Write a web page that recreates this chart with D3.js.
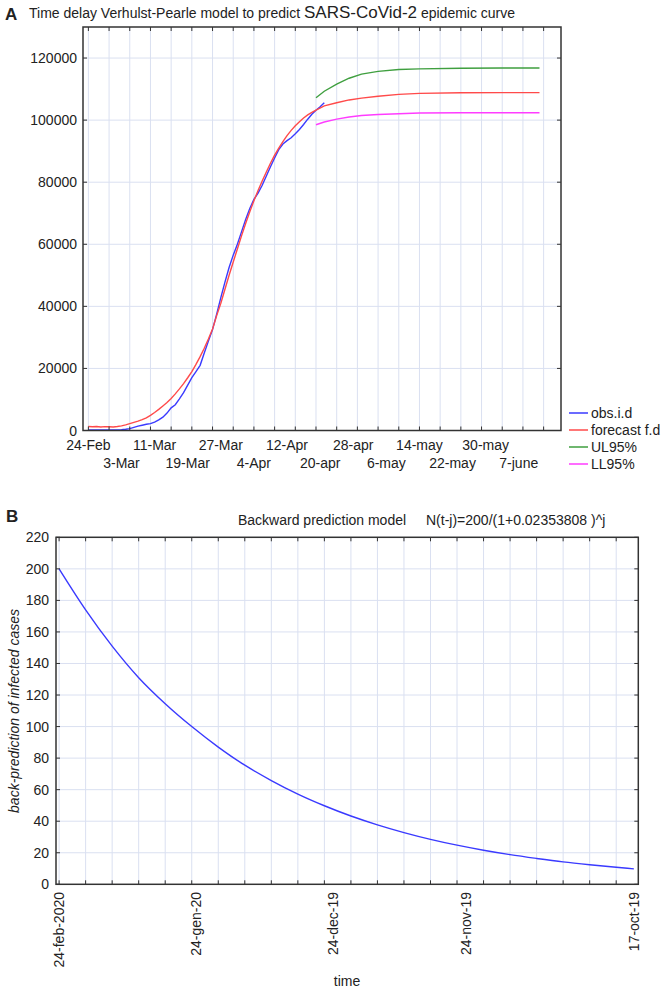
<!DOCTYPE html>
<html><head><meta charset="utf-8">
<script src="https://cdn.jsdelivr.net/npm/d3@7"></script>
<style>
body{margin:0;background:#fff}
text{font-family:"Liberation Sans",Arial,sans-serif;fill:#222}
</style>
</head><body>
<svg id="c" width="668" height="991"></svg>
<script>
// ---------- Panel A data (day index from 24-Feb-2020) ----------
const obsDays = [0,2,4,6,8,9,10,11,12,13,14,15,16,17,18,19,20,21,22,23,24,25,26,27,28,29,30,31,32,33,34,35,36,37,38,39,40,41,42,43,44,45,46,47,48,49,50,51,52,53,54,55,56,57];
const obsVals = [150,150,150,200,250,400,600,1000,1400,1700,2000,2200,2700,3400,4300,5600,7300,8300,10200,12200,14600,17000,19000,21000,25000,28800,32500,37500,42800,47800,52500,56500,60000,64000,68000,71500,74500,76500,79000,82000,85000,87800,90500,92300,93400,94300,95600,97000,98600,100300,101900,103200,104300,105600];

const fcDays = [0,1,2,3,4,5,6,7,8,9,10,11,12,13,14,15,16,17,18,19,20,21,22,23,24,25,26,27,28,29,30,31,32,33,34,35,36,37,38,39,40,41,42,43,44,45,46,47,48,49,50,51,52,53,54,55,57,60,63,66,70,75,80,90,100,109];
const fcVals = [1300,1200,1300,1150,1250,1200,1150,1300,1500,1800,2200,2600,3000,3500,4100,4900,5800,6800,7900,9000,10300,11800,13400,15100,17000,19000,21300,23800,26500,29500,32700,37000,41000,45500,50000,54300,58500,62700,66700,70500,74000,77300,80400,83300,86100,88700,91000,93100,95000,96700,98200,99500,100700,101700,102500,103200,104600,105600,106500,107100,107700,108300,108600,108800,108850,108850];

const ulDays = [55,57,60,63,66,70,75,80,90,100,109];
const ulVals = [107200,109300,111600,113500,114800,115700,116300,116500,116700,116800,116800];
const llDays = [55,57,60,63,66,70,75,80,90,100,109];
const llVals = [98500,99400,100300,101000,101500,101800,102050,102300,102350,102350,102350];

const dateLabels = ["24-Feb","3-Mar","11-Mar","19-Mar","27-Mar","4-Apr","12-Apr","20-apr","28-apr","6-may","14-may","22-may","30-may","7-june"];
const dateLabelDays = [0,8,16,24,32,40,48,56,64,72,80,88,96,104];
const yTicksA = [0,20000,40000,60000,80000,100000,120000];
const legendNames = ["obs.i.d","forecast f.d","UL95%","LL95%"];
const legendColors = ["#3a3aff","#ff4a4a","#3f9f3f","#ff3cff"];

// ---------- Panel B data (days back from 24-feb-2020) ----------
const backDays = [0,6,12,18,24,30,36,42,48,54,60,66,72,78,84,90,96,102,108,114,120,126,130];
const backVals = [200,174,151,131,114.5,100,87,75.5,65.8,57.2,49.8,43.3,37.7,32.8,28.5,24.8,21.6,18.8,16.4,14.2,12.4,10.8,9.8];
const backLabels = ["24-feb-2020","24-gen-20","24-dec-19","24-nov-19","17-oct-19"];
const backLabelDays = [0,31,62,92,130];
const yTicksB = [0,20,40,60,80,100,120,140,160,180,200,220];

const svg = d3.select("#c");
const gridCol = "#dae0f1";
const frameCol = "#333";

// ================= Panel A =================
const xA = d3.scaleLinear().domain([-1.3,114.2]).range([83,561]);
const yA = d3.scaleLinear().domain([0,130000]).range([430.5,27]);
const gA = svg.append("g");
const gridDaysA = d3.range(0,111,5);

gA.selectAll(".vg").data(gridDaysA).join("line")
  .attr("x1",d=>xA(d)).attr("x2",d=>xA(d)).attr("y1",yA.range()[1]).attr("y2",yA.range()[0])
  .attr("stroke",gridCol).attr("stroke-width",1);
gA.selectAll(".hg").data(yTicksA.slice(1)).join("line")
  .attr("x1",xA.range()[0]).attr("x2",xA.range()[1]).attr("y1",d=>yA(d)).attr("y2",d=>yA(d))
  .attr("stroke",gridCol).attr("stroke-width",1);

function frameTicks(g,x,y,xt,yt){
  const [x0,x1]=x.range(), [y0,y1]=y.range();
  g.selectAll(null).data(xt).join("line").attr("x1",d=>x(d)).attr("x2",d=>x(d)).attr("y1",y1).attr("y2",y1+4).attr("stroke",frameCol);
  g.selectAll(null).data(xt).join("line").attr("x1",d=>x(d)).attr("x2",d=>x(d)).attr("y1",y0).attr("y2",y0-4).attr("stroke",frameCol);
  g.selectAll(null).data(yt).join("line").attr("x1",x0).attr("x2",x0+4).attr("y1",d=>y(d)).attr("y2",d=>y(d)).attr("stroke",frameCol);
  g.selectAll(null).data(yt).join("line").attr("x1",x1).attr("x2",x1-4).attr("y1",d=>y(d)).attr("y2",d=>y(d)).attr("stroke",frameCol);
  g.append("rect").attr("x",x0).attr("y",y1).attr("width",x1-x0).attr("height",y0-y1)
    .attr("fill","none").attr("stroke",frameCol).attr("stroke-width",1.5);
}

const lineA = (days,vals)=>d3.line().x((d,i)=>xA(days[i])).y(d=>yA(d))(vals);
const seriesA = [[obsDays,obsVals],[fcDays,fcVals],[ulDays,ulVals],[llDays,llVals]];
[3,2,0,1].forEach(k=>{
  gA.append("path").attr("d",lineA(seriesA[k][0],seriesA[k][1]))
    .attr("fill","none").attr("stroke",legendColors[k]).attr("stroke-width",1.4);
});
frameTicks(gA,xA,yA,gridDaysA,yTicksA);

gA.selectAll(".yl").data(yTicksA).join("text")
  .attr("x",77).attr("y",d=>yA(d)+5).attr("text-anchor","end").attr("font-size",14).text(d=>d);

gA.selectAll(".xl").data(dateLabels).join("text")
  .attr("x",(d,i)=>xA(dateLabelDays[i])).attr("y",(d,i)=>i%2===0?450:468)
  .attr("text-anchor","middle").attr("font-size",14).text(d=>d);

const lg = gA.append("g");
legendNames.forEach((n,i)=>{
  const yy = 413 + i*17;
  lg.append("line").attr("x1",569).attr("x2",588).attr("y1",yy).attr("y2",yy).attr("stroke",legendColors[i]).attr("stroke-width",1.5);
  lg.append("text").attr("x",591).attr("y",yy+5).attr("font-size",14).text(n);
});

svg.append("text").attr("x",5).attr("y",20).attr("font-size",17).attr("font-weight","bold").text("A");
const tA = svg.append("text").attr("x",29).attr("y",18).attr("font-size",14);
tA.append("tspan").text("Time delay Verhulst-Pearle model to predict ");
tA.append("tspan").attr("font-size",17).text("SARS-CoVid-2");
tA.append("tspan").text("  epidemic curve");

// ================= Panel B =================
const xB = d3.scaleLinear().domain([-0.7,131]).range([56,638.3]);
const yB = d3.scaleLinear().domain([0,220]).range([884.3,537.3]);
const gB = svg.append("g");
const gridDaysB = d3.range(0,127,6);

gB.selectAll(".vg").data(gridDaysB).join("line")
  .attr("x1",d=>xB(d)).attr("x2",d=>xB(d)).attr("y1",yB.range()[1]).attr("y2",yB.range()[0])
  .attr("stroke",gridCol);
gB.selectAll(".hg").data(yTicksB.slice(1)).join("line")
  .attr("x1",xB.range()[0]).attr("x2",xB.range()[1]).attr("y1",d=>yB(d)).attr("y2",d=>yB(d))
  .attr("stroke",gridCol);

gB.append("path").attr("d",d3.line().curve(d3.curveMonotoneX).x((d,i)=>xB(backDays[i])).y(d=>yB(d))(backVals))
  .attr("fill","none").attr("stroke","#3a3aff").attr("stroke-width",1.4);
frameTicks(gB,xB,yB,gridDaysB,yTicksB);

gB.selectAll(".yl").data(yTicksB).join("text")
  .attr("x",49).attr("y",d=>yB(d)+5).attr("text-anchor","end").attr("font-size",14).text(d=>d);

gB.selectAll(".xl").data(backLabels).join("text")
  .attr("transform",(d,i)=>`translate(${xB(backLabelDays[i])+5},892) rotate(-90)`)
  .attr("text-anchor","end").attr("font-size",14).text(d=>d);

svg.append("text").attr("x",347).attr("y",986).attr("text-anchor","middle").attr("font-size",14).text("time");
svg.append("text").attr("transform","translate(19,711) rotate(-90)").attr("text-anchor","middle")
  .attr("font-size",14).attr("font-style","italic").text("back-prediction of infected cases");

svg.append("text").attr("x",6).attr("y",522).attr("font-size",17).attr("font-weight","bold").text("B");
svg.append("text").attr("x",238).attr("y",525).attr("font-size",14).text("Backward prediction model");
svg.append("text").attr("x",426).attr("y",525).attr("font-size",14).text("N(t-j)=200/(1+0.02353808 )^j");
</script>
</body></html>
